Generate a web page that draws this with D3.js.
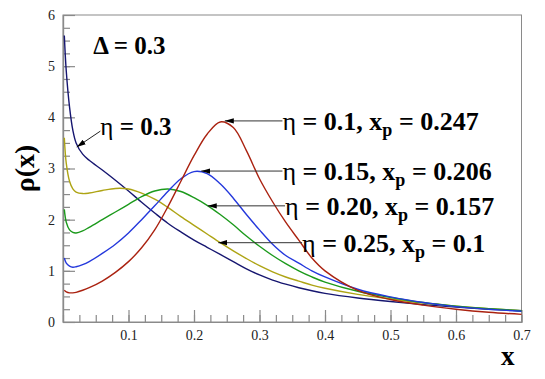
<!DOCTYPE html>
<html>
<head>
<meta charset="utf-8">
<script src="https://cdn.jsdelivr.net/npm/d3@7"></script>
<style>
  body { margin: 0; background: #fff; }
  svg { display: block; }
</style>
</head>
<body>
<script>
// x grid shared by all curves
const xs = [0.002, 0.005, 0.01, 0.015, 0.02, 0.03, 0.04, 0.06, 0.08, 0.1, 0.12, 0.14, 0.16, 0.18, 0.2,
  0.22, 0.24, 0.26, 0.28, 0.3, 0.32, 0.34, 0.36, 0.38, 0.4, 0.45, 0.5, 0.55, 0.6, 0.65, 0.7];

const rhoEta30 = [5.6, 4.9, 4.2, 3.75, 3.5, 3.28, 3.16, 2.97, 2.77, 2.56, 2.34, 2.13, 1.93, 1.76, 1.6,
  1.46, 1.32, 1.18, 1.04, 0.92, 0.82, 0.74, 0.67, 0.61, 0.56, 0.47, 0.4, 0.34, 0.29, 0.25, 0.22];
const rhoEta25 = [3.6, 3.1, 2.75, 2.6, 2.54, 2.51, 2.52, 2.57, 2.61, 2.6, 2.52, 2.4, 2.24, 2.06, 1.89,
  1.72, 1.55, 1.39, 1.24, 1.1, 0.98, 0.88, 0.8, 0.72, 0.66, 0.54, 0.45, 0.37, 0.31, 0.26, 0.22];
const rhoEta20 = [2.2, 1.95, 1.8, 1.75, 1.74, 1.78, 1.85, 2.0, 2.15, 2.3, 2.45, 2.56, 2.6, 2.55, 2.43,
  2.28, 2.1, 1.9, 1.68, 1.48, 1.3, 1.14, 1.0, 0.88, 0.78, 0.6, 0.48, 0.38, 0.31, 0.26, 0.22];
const rhoEta15 = [1.25, 1.15, 1.09, 1.07, 1.08, 1.12, 1.18, 1.34, 1.52, 1.74, 2.0, 2.27, 2.55, 2.8, 2.94,
  2.9, 2.7, 2.42, 2.1, 1.8, 1.52, 1.3, 1.15, 1.0, 0.88, 0.64, 0.49, 0.38, 0.3, 0.25, 0.21];
const rhoEta10 = [0.62, 0.59, 0.57, 0.57, 0.58, 0.62, 0.67, 0.8, 0.97, 1.18, 1.45, 1.8, 2.25, 2.75, 3.25,
  3.67, 3.91, 3.8, 3.35, 2.8, 2.35, 1.95, 1.6, 1.25, 1.0, 0.62, 0.44, 0.33, 0.25, 0.19, 0.15];

const xTickValues = [0.1, 0.2, 0.3, 0.4, 0.5, 0.6, 0.7];
const yTickValues = [0, 1, 2, 3, 4, 5, 6];

const series = [
  { name: 'eta30', values: rhoEta30, color: '#161670' },
  { name: 'eta25', values: rhoEta25, color: '#aea414' },
  { name: 'eta20', values: rhoEta20, color: '#1c9a1c' },
  { name: 'eta15', values: rhoEta15, color: '#2438dc' },
  { name: 'eta10', values: rhoEta10, color: '#aa2210' },
];

// arrow labels: target point on curve, label start
const notes = [
  { eta: '0.1', xp: '0.247', tx: 0.247, ty: 3.93, lx: 0.335 },
  { eta: '0.15', xp: '0.206', tx: 0.211, ty: 2.95, lx: 0.335 },
  { eta: '0.20', xp: '0.157', tx: 0.221, ty: 2.27, lx: 0.339 },
  { eta: '0.25', xp: '0.1', tx: 0.237, ty: 1.55, lx: 0.365 },
];

const width = 545, height = 379;
const margin = { top: 15, right: 23.5, bottom: 57, left: 63 };
const innerW = width - margin.left - margin.right;
const innerH = height - margin.top - margin.bottom;
const serif = "'Liberation Serif', 'DejaVu Serif', serif";
const axisColor = '#8a8a8a';

const svg = d3.select('body')
  .append('svg')
  .attr('width', width)
  .attr('height', height);

const defs = svg.append('defs');
defs.append('marker')
  .attr('id', 'head')
  .attr('markerUnits', 'userSpaceOnUse')
  .attr('viewBox', '0 0 10 6')
  .attr('refX', 10)
  .attr('refY', 3)
  .attr('markerWidth', 9)
  .attr('markerHeight', 6)
  .attr('orient', 'auto')
  .append('path')
  .attr('d', 'M0,0 L10,3 L0,6 Z')
  .attr('fill', '#000');

const g = svg.append('g')
  .attr('transform', `translate(${margin.left}, ${margin.top})`);

const x = d3.scaleLinear().domain([0, 0.7]).range([0, innerW]);
const y = d3.scaleLinear().domain([0, 6]).range([innerH, 0]);

// frame
g.append('rect')
  .attr('width', innerW)
  .attr('height', innerH)
  .attr('fill', 'none')
  .attr('stroke', axisColor)
  .attr('stroke-width', 1);

// minor ticks
g.append('g')
  .attr('class', 'minor')
  .attr('transform', `translate(0, ${innerH})`)
  .call(d3.axisBottom(x).tickValues(d3.range(1, 28).map(i => i * 0.025)).tickSize(-7).tickFormat(''));

g.append('g')
  .attr('class', 'minor')
  .call(d3.axisLeft(y).tickValues(d3.range(1, 24).map(i => i * 0.25)).tickSize(-7).tickFormat(''));

// major ticks
g.append('g')
  .attr('transform', `translate(0, ${innerH})`)
  .call(d3.axisBottom(x).tickValues(xTickValues).tickSize(-12).tickSizeOuter(0).tickPadding(8)
    .tickFormat(d3.format('.1f')));

g.append('g')
  .call(d3.axisLeft(y).tickValues(yTickValues).tickSize(-12).tickSizeOuter(0).tickPadding(8)
    .tickFormat(d3.format('d')));

g.selectAll('.domain, .tick line')
  .attr('stroke', axisColor)
  .attr('stroke-width', 1.2);

g.selectAll('.tick text')
  .style('font-family', serif)
  .style('font-size', '14px')
  .attr('fill', '#222');

// curves
const line = d3.line()
  .x((d, i) => x(xs[i]))
  .y(d => y(d))
  .curve(d3.curveCatmullRom.alpha(0.5));

g.selectAll('.curve')
  .data(series)
  .enter()
  .append('path')
  .attr('class', 'curve')
  .attr('fill', 'none')
  .attr('stroke', d => d.color)
  .attr('stroke-width', 1.4)
  .attr('d', d => line(d.values));

// axis titles
svg.append('text')
  .attr('transform', `translate(34, ${margin.top + y(3.0)}) rotate(-90)`)
  .attr('text-anchor', 'middle')
  .style('font-family', serif)
  .style('font-size', '28px')
  .style('font-weight', 'bold')
  .text('ρ(x)');

svg.append('text')
  .attr('x', margin.left + innerW - 7)
  .attr('y', height - 14)
  .attr('text-anchor', 'end')
  .style('font-family', serif)
  .style('font-size', '27px')
  .style('font-weight', 'bold')
  .text('x');

// delta label
g.append('text')
  .attr('x', x(0.046))
  .attr('y', y(5.24))
  .style('font-family', serif)
  .style('font-size', '25px')
  .style('font-weight', 'bold')
  .text('Δ = 0.3');

// eta = 0.3 label with slanted arrow
g.append('line')
  .attr('x1', x(0.057))
  .attr('y1', y(3.73))
  .attr('x2', x(0.021))
  .attr('y2', y(3.42))
  .attr('stroke', '#222')
  .attr('stroke-width', 1)
  .attr('marker-end', 'url(#head)');

const eta30 = g.append('text')
  .attr('x', x(0.057))
  .attr('y', y(3.65))
  .style('font-family', serif)
  .style('font-size', '25px')
  .style('font-weight', 'bold');
eta30.append('tspan').style('font-weight', 'normal').text('η');
eta30.append('tspan').text(' = 0.3');

// peak labels
const note = g.selectAll('.note')
  .data(notes)
  .enter()
  .append('g')
  .attr('class', 'note');

note.append('line')
  .attr('x1', d => x(d.lx))
  .attr('y1', d => y(d.ty))
  .attr('x2', d => x(d.tx))
  .attr('y2', d => y(d.ty))
  .attr('stroke', '#333')
  .attr('stroke-width', 1)
  .attr('marker-end', 'url(#head)');

const label = note.append('text')
  .attr('x', d => x(d.lx))
  .attr('y', d => y(d.ty) + 9)
  .style('font-family', serif)
  .style('font-size', '26px')
  .style('font-weight', 'bold');

label.append('tspan').style('font-weight', 'normal').text('η');
label.append('tspan').text(d => ` = ${d.eta}, x`);
label.append('tspan').style('font-size', '18px').attr('dy', 6).text('p');
label.append('tspan').attr('dy', -6).text(d => ` = ${d.xp}`);
</script>
</body>
</html>
